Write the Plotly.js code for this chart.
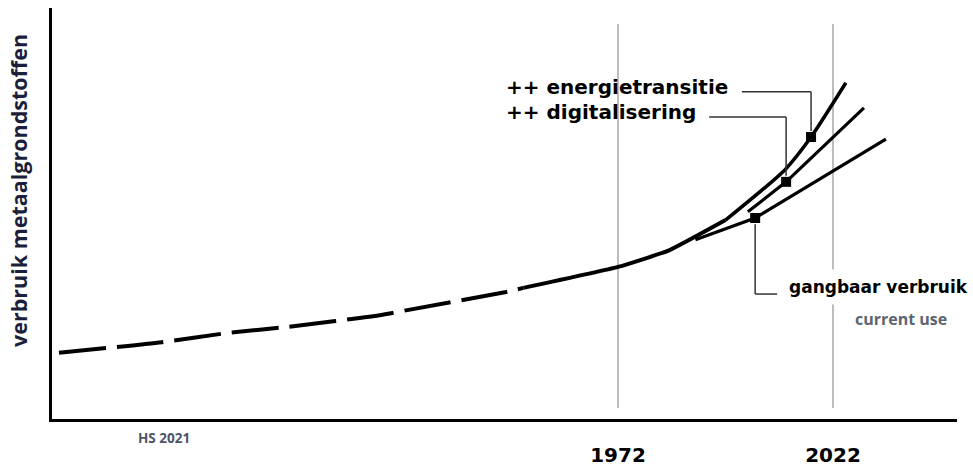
<!DOCTYPE html>
<html>
<head>
<meta charset="utf-8">
<script src="https://cdn.plot.ly/plotly-3.0.1.min.js"></script>
<style>html,body{margin:0;padding:0;background:#fff;}#chart{width:973px;height:466px;}</style>
</head>
<body>
<div id="chart"></div>
<script>
// ---- data (years on x, relative consumption on y) ----
const mainDashYears   = [1842, 1866, 1881, 1895, 1917, 1923, 1946, 1950];
const mainDashValues  = [16.1, 18.7, 20.9, 22.4, 25.3, 26.5, 30.9, 31.9];
const mainSolidYears  = [1950, 1972, 1984, 1997];
const mainSolidValues = [31.9, 37.0, 41.1, 48.4];
const energieYears    = [1997, 2010.8, 2016.9, 2025];
const energieValues   = [48.4, 60.6, 68.6, 81.8];
const digitalYears    = [2002.2, 2011.1, 2029.2];
const digitalValues   = [50.4, 57.7, 75.7];
const gangbaarYears   = [1990, 2003.9, 2034.3];
const gangbaarValues  = [43.6, 48.9, 68.1];
const markerYears     = [2016.9, 2011.1, 2003.9];
const markerValues    = [68.6, 57.7, 48.9];
const tickYears       = [1972, 2022];
const tickLabels      = ['1972', '2022'];
const seriesLabels    = ['++ energietransitie', '++ digitalisering', 'gangbaar verbruik'];
const subLabel        = 'current use';
const yTitle          = 'verbruik metaalgrondstoffen';
const creditLabel     = 'HS 2021';

const BOLD = 'DejaVu Sans';
const ink = '#000000';

const traces = [
  {x: mainDashYears, y: mainDashValues, mode: 'lines', line: {color: ink, width: 4, dash: '47px,11px', shape: 'spline', smoothing: 0.6}, hoverinfo: 'skip'},
  {x: mainSolidYears, y: mainSolidValues, mode: 'lines', line: {color: ink, width: 4, shape: 'spline', smoothing: 0.4}, hoverinfo: 'skip'},
  {x: energieYears, y: energieValues, mode: 'lines', line: {color: ink, width: 3.5, shape: 'spline', smoothing: 0.6}, hoverinfo: 'skip'},
  {x: digitalYears, y: digitalValues, mode: 'lines', line: {color: ink, width: 3.2}, hoverinfo: 'skip'},
  {x: gangbaarYears, y: gangbaarValues, mode: 'lines', line: {color: ink, width: 3.2}, hoverinfo: 'skip'},
  {x: markerYears, y: markerValues, mode: 'markers', marker: {symbol: 'square', size: 10, color: ink}, hoverinfo: 'skip'}
];

// leader line anchors (label heights in data units)
const leaderY = [79.6, 73.5, 30.4];
const leaderStartX = [2000.8, 1993.2, 2009.0];
const leadLine = {color: '#333333', width: 1.5};

const shapes = [];
tickYears.forEach(function (yr) {
  shapes.push({type: 'line', xref: 'x', yref: 'paper', x0: yr, x1: yr, y0: 0.027, y1: 0.961,
               line: {color: '#a8a8a8', width: 1.5}, layer: 'below'});
});
// energietransitie leader
shapes.push({type: 'line', xref: 'x', yref: 'y', x0: leaderStartX[0], x1: markerYears[0], y0: leaderY[0], y1: leaderY[0], line: leadLine});
shapes.push({type: 'line', xref: 'x', yref: 'y', x0: markerYears[0], x1: markerYears[0], y0: leaderY[0], y1: markerValues[0] + 1.5, line: leadLine});
// digitalisering leader
shapes.push({type: 'line', xref: 'x', yref: 'y', x0: leaderStartX[1], x1: markerYears[1], y0: leaderY[1], y1: leaderY[1], line: leadLine});
shapes.push({type: 'line', xref: 'x', yref: 'y', x0: markerYears[1], x1: markerYears[1], y0: leaderY[1], y1: markerValues[1] + 1.5, line: leadLine});
// gangbaar leader
shapes.push({type: 'line', xref: 'x', yref: 'y', x0: markerYears[2], x1: markerYears[2], y0: markerValues[2] - 1.5, y1: leaderY[2], line: leadLine});
shapes.push({type: 'line', xref: 'x', yref: 'y', x0: markerYears[2], x1: leaderStartX[2], y0: leaderY[2], y1: leaderY[2], line: leadLine});

const annotations = [
  {text: seriesLabels[0], xref: 'x', yref: 'y', x: 1945.5, y: 80.8, xanchor: 'left', yanchor: 'middle', showarrow: false,
   font: {family: BOLD, size: 20, color: ink, weight: 'bold'}},
  {text: seriesLabels[1], xref: 'x', yref: 'y', x: 1945.5, y: 74.7, xanchor: 'left', yanchor: 'middle', showarrow: false,
   font: {family: BOLD, size: 20, color: ink, weight: 'bold'}},
  {text: seriesLabels[2], xref: 'x', yref: 'y', x: 2009.9, y: 32.1, xanchor: 'left', yanchor: 'middle', showarrow: false,
   bgcolor: '#ffffff', borderpad: 7, font: {family: BOLD, size: 17, color: ink, weight: 'bold'}},
  {text: subLabel, xref: 'x', yref: 'y', x: 2026.7, y: 24.3, xanchor: 'left', yanchor: 'middle', showarrow: false,
   font: {family: 'Open Sans', size: 16, color: '#5d6570', weight: 'bold'}},
  {text: creditLabel, xref: 'x', yref: 'paper', x: 1859.9, y: -0.046, xanchor: 'left', yanchor: 'middle', showarrow: false,
   font: {family: 'Open Sans', size: 13.5, color: '#4b5668', weight: 'bold'}},
  {text: yTitle, xref: 'paper', yref: 'paper', x: -0.0376, y: 0.557, xanchor: 'center', yanchor: 'middle', textangle: -90,
   showarrow: false, font: {family: 'Open Sans', size: 21.5, color: '#1b1f3b', weight: 'bold'}}
];

const layout = {
  width: 973, height: 466,
  margin: {l: 52, r: 16, t: 8, b: 47, pad: 0},
  paper_bgcolor: '#ffffff', plot_bgcolor: '#ffffff',
  showlegend: false,
  xaxis: {range: [1840.37, 2050.84], showgrid: false, zeroline: false, showline: true, linecolor: ink, linewidth: 3,
          tickvals: tickYears, ticktext: tickLabels, ticks: '', ticklabelstandoff: 16,
          tickfont: {family: BOLD, size: 20, color: ink, weight: 'bold'}, fixedrange: true},
  yaxis: {range: [0, 100], showgrid: false, zeroline: false, showline: true, linecolor: ink, linewidth: 3,
          showticklabels: false, ticks: '', fixedrange: true},
  shapes: shapes,
  annotations: annotations
};

Plotly.newPlot('chart', traces, layout, {staticPlot: true, displayModeBar: false});
</script>
</body>
</html>
